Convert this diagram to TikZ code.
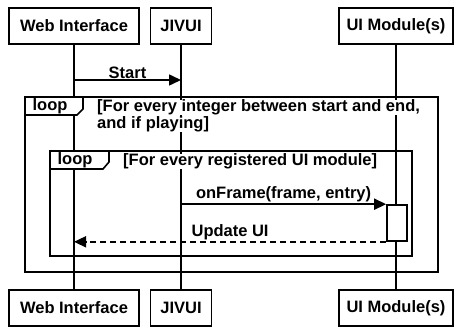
\documentclass[tikz,border=0pt]{standalone}
\usepackage{fontspec}
\setmainfont{Liberation Sans}
\usetikzlibrary{arrows.meta,positioning}

\tikzset{
  actor/.style={draw, line width=1.6pt, minimum height=36pt, inner xsep=0pt,
    font=\bfseries\fontsize{16.5}{19}\selectfont},
  lifeline/.style={line width=1.6pt},
  msg/.style={line width=1.6pt, -{Triangle[length=12pt,width=11pt]}},
  reply/.style={msg, dash pattern=on 6pt off 4pt},
  frame/.style={line width=1.6pt},
  lbl/.style={inner sep=1pt, font=\bfseries\fontsize{16.5}{19}\selectfont},
  guard/.style={lbl, fill=white, inner sep=0pt, anchor=base west},
  activation/.style={draw, fill=white, line width=1.6pt, minimum width=20pt, minimum height=36pt, inner sep=0pt}
}

\begin{document}
\begin{tikzpicture}[x=1pt, y=-1pt]
  \useasboundingbox (0,0) rectangle (456,328);

  % participants
  \node[actor, minimum width=130pt] (wiTop) at (74,26) {Web Interface};
  \node[actor, minimum width=61pt] (jvTop) at (181,26) {JIVUI};
  \node[actor, minimum width=114pt] (umTop) at (396,26) {UI Module(s)};
  \node[actor, minimum width=130pt] (wiBot) at (74,308) {Web Interface};
  \node[actor, minimum width=61pt] (jvBot) at (181,308) {JIVUI};
  \node[actor, minimum width=114pt] (umBot) at (396,308) {UI Module(s)};

  % lifelines
  \draw[lifeline] (wiTop) -- (wiBot);
  \draw[lifeline] (jvTop) -- (jvBot);
  \draw[lifeline] (umTop) -- (umBot);

  % Start
  \coordinate (s1) at (wiTop |- 0,80);
  \coordinate (s2) at (jvTop |- 0,80);
  \draw[msg] (s1) -- (s2) node[lbl, midway, above] {Start};

  % outer loop
  \draw[frame] (25,97) rectangle (438,272);
  \draw[frame, fill=white] (25,97) -- (83,97) -- (83,109) -- (77,115) -- (25,115) -- cycle;
  \node[lbl] (loopA) at (50,106) {loop};
  \node[guard] (grdA1) at (97,112) {[For every integer between start and end,};
  \node[guard] (grdA2) at (97,129) {and if playing]};

  % inner loop
  \draw[frame] (50,151) rectangle (412,256);
  \draw[frame, fill=white] (50,151) -- (109,151) -- (109,162) -- (103,169) -- (50,169) -- cycle;
  \node[lbl] (loopB) at (75,160) {loop};
  \node[guard] (grdB) at (123,166) {[For every registered UI module]};

  % onFrame / Update UI
  \node[activation] (act) at (397,223) {};
  \coordinate (f1) at (jvTop |- act.north);
  \draw[msg] (f1) -- (act.north west) node[lbl, midway, above] {onFrame(frame, entry)};
  \coordinate (u2) at (wiTop |- act.south);
  \draw[reply] (act.south west) -- (u2) node[lbl, midway, above] {Update UI};
\end{tikzpicture}
\end{document}
